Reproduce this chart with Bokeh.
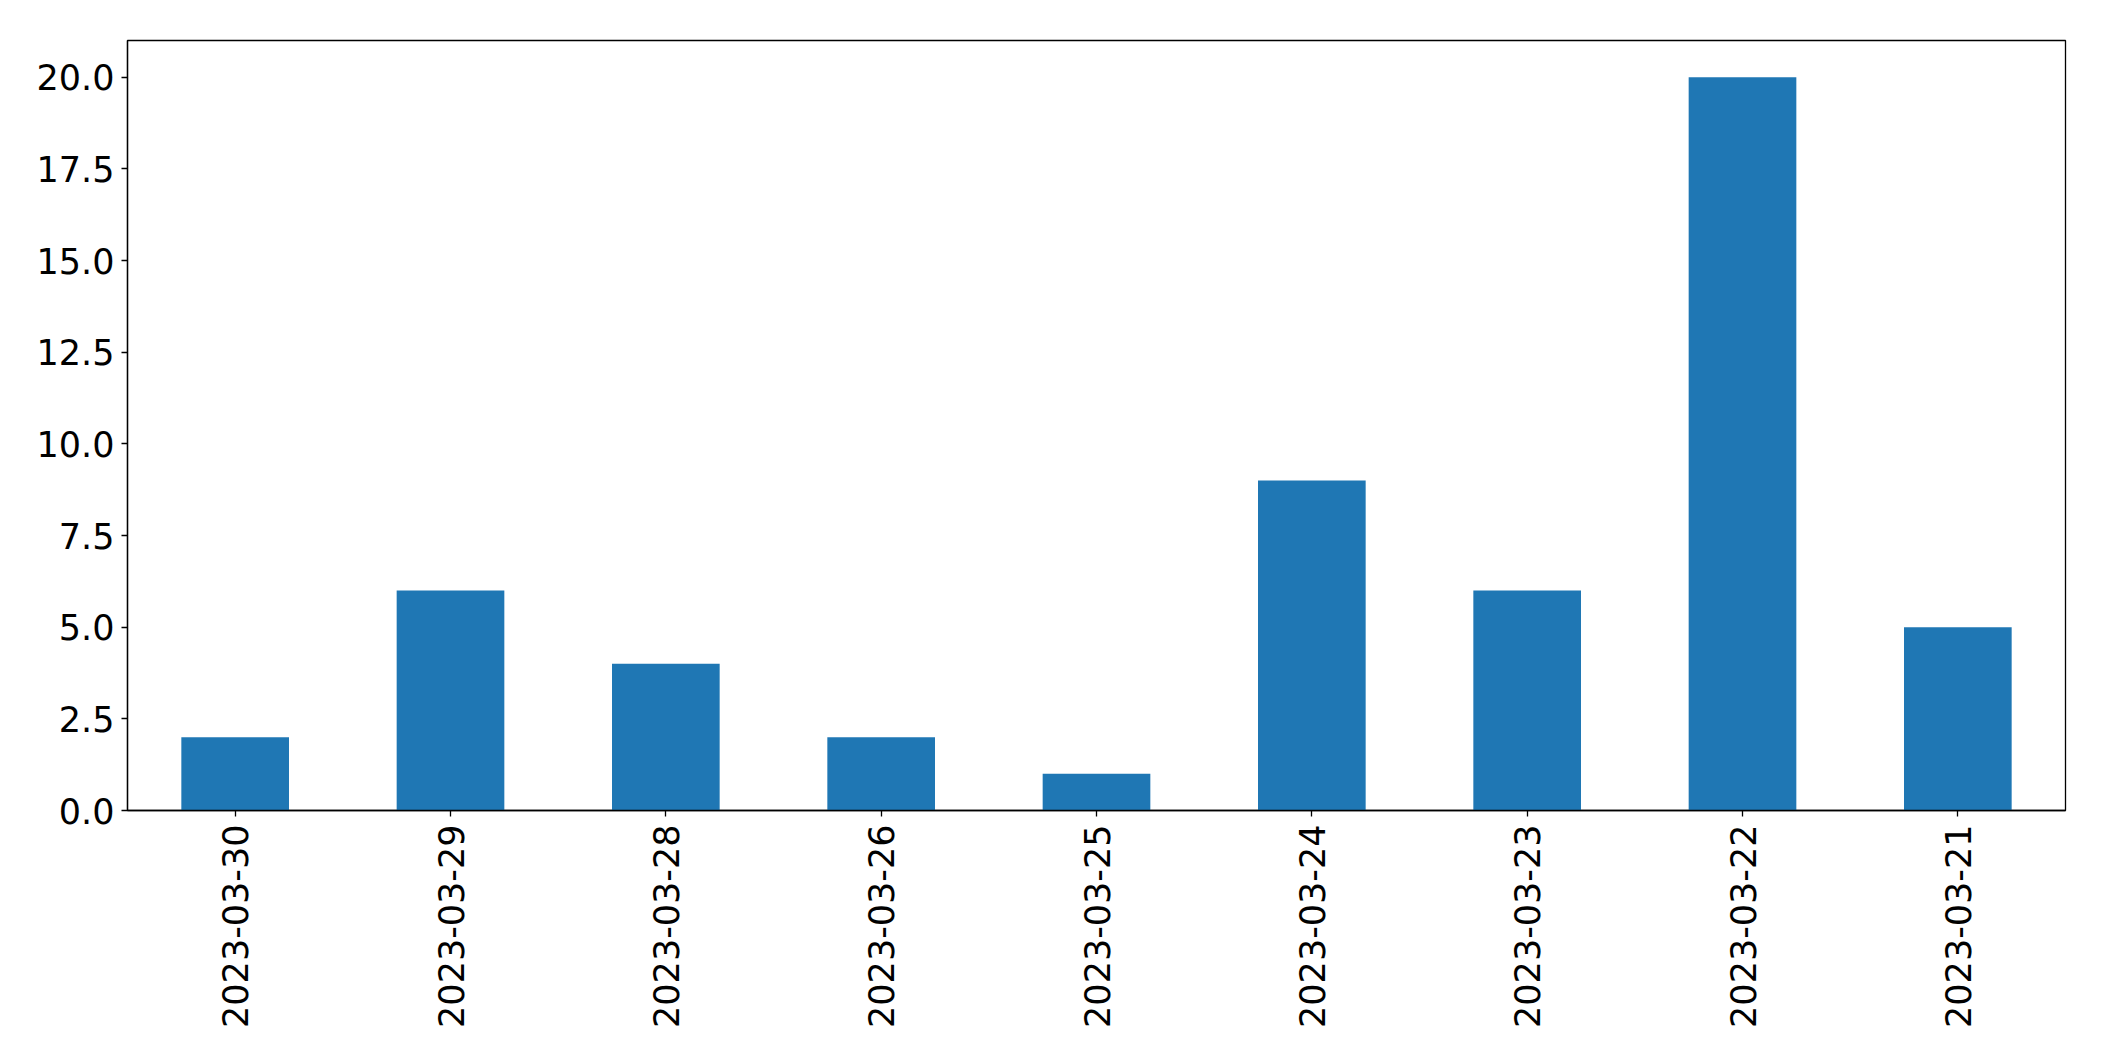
import math
from bokeh.plotting import figure
from bokeh.models import FactorRange, Range1d, FixedTicker, PrintfTickFormatter, ColumnDataSource
from bokeh.embed import file_html
from bokeh.resources import INLINE

dates = ["2023-03-30", "2023-03-29", "2023-03-28", "2023-03-26", "2023-03-25",
         "2023-03-24", "2023-03-23", "2023-03-22", "2023-03-21"]
counts = [2, 6, 4, 2, 1, 9, 6, 20, 5]
y_ticks = [0, 2.5, 5, 7.5, 10, 12.5, 15, 17.5, 20]

src = ColumnDataSource(data=dict(date=dates, count=counts))

p = figure(x_range=FactorRange(factors=dates, range_padding=0),
           y_range=Range1d(0, 21),
           frame_width=1938, frame_height=770,
           min_border_left=127, min_border_top=40, min_border_right=31, min_border_bottom=20,
           output_backend="svg", toolbar_location=None)

p.vbar(x="date", top="count", width=0.5, source=src, color="#1f77b4", line_color=None)

p.xgrid.visible = False
p.ygrid.visible = False
p.outline_line_color = "black"
p.outline_line_width = 1.3

for ax in (p.xaxis[0], p.yaxis[0]):
    ax.axis_line_color = "black"
    ax.axis_line_width = 1.3
    ax.major_tick_line_color = "black"
    ax.major_tick_line_width = 1.3
    ax.major_tick_out = 6
    ax.major_tick_in = 0
    ax.minor_tick_line_color = None
    ax.major_label_text_font = "DejaVu Sans"
    ax.major_label_text_font_size = "35px"
    ax.major_label_text_color = "black"

p.yaxis[0].ticker = FixedTicker(ticks=y_ticks)
p.yaxis[0].formatter = PrintfTickFormatter(format="%.1f")
p.yaxis[0].major_label_standoff = 7
p.xaxis[0].major_label_orientation = math.pi / 2
p.xaxis[0].major_label_standoff = 8
p.xaxis[0].group_text_font_size = "0px"

open("out.html", "w").write(file_html(p, INLINE))
